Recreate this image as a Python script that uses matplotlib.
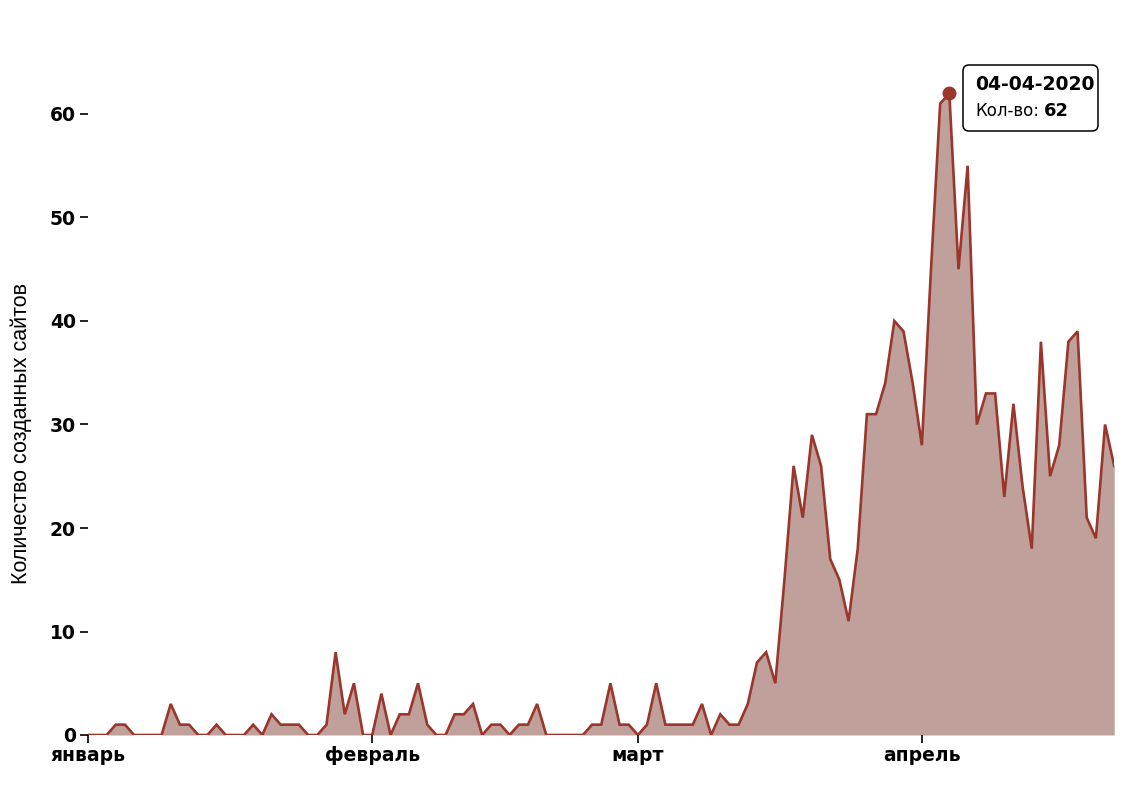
import matplotlib
matplotlib.use("Agg")
import matplotlib.pyplot as plt
import matplotlib.transforms as mtransforms
from matplotlib.patches import FancyBboxPatch
import numpy as np
import pandas as pd

# ---- data ----
start_date = "2020-01-01"
counts = [
    0, 0, 0, 1, 1, 0, 0, 0, 0, 3, 1, 1, 0, 0, 1, 0, 0, 0, 1, 0,
    2, 1, 1, 1, 0, 0, 1, 8, 2, 5, 0,
    0, 4, 0, 2, 2, 5, 1, 0, 0, 2, 2, 3, 0, 1, 1, 0, 1, 1, 3,
    0, 0, 0, 0, 0, 1, 1, 5, 1, 1,
    0, 1, 5, 1, 1, 1, 1, 3, 0, 2, 1, 1, 3, 7, 8, 5, 15, 26, 21, 29,
    26, 17, 15, 11, 18, 31, 31, 34, 40, 39, 34,
    28, 45, 61, 62, 45, 55, 30, 33, 33, 23, 32, 24, 18, 38, 25, 28,
    38, 39, 21, 19, 30, 26,
]
dates = pd.date_range(start_date, periods=len(counts), freq="D")
month_ticks = pd.to_datetime(["2020-01-01", "2020-02-01", "2020-03-01", "2020-04-01"])
month_labels = ["январь", "февраль", "март", "апрель"]
y_ticks = [0, 10, 20, 30, 40, 50, 60]
peak_label_date = "04-04-2020"
y_label = "Количество созданных сайтов"

line_color = "#9a362c"
fill_color = "#bfa09b"

W, H = 1142, 796
fig = plt.figure(figsize=(W / 100, H / 100), dpi=100)
plt.rcParams["font.family"] = ["DejaVu Sans"]

left_px, right_px = 88.3, 1114.2
bottom_px = 735
ymax = 65
px_per_unit = (735 - 114) / 60.0
top_px = bottom_px - ymax * px_per_unit
ax = fig.add_axes([left_px / W, (H - bottom_px) / H,
                   (right_px - left_px) / W, (bottom_px - top_px) / H])

x = dates
y = np.array(counts)
ax.fill_between(x, 0, y, color=fill_color, lw=0)
ax.plot(x, y, color=line_color, lw=1.9, solid_joinstyle="miter")
ax.set_xlim(dates[0], dates[-1])
ax.set_ylim(0, ymax)

for s in ax.spines.values():
    s.set_visible(False)

tick_font = dict(family=["DejaVu Sans"], size=13.5, weight="bold")
ax.set_yticks(y_ticks)
ax.set_yticklabels([str(v) for v in y_ticks], **tick_font)
ax.set_xticks(month_ticks)
ax.set_xticklabels(month_labels, **tick_font)
ax.tick_params(axis="y", length=6, width=1.2, pad=3, colors="black")
ax.tick_params(axis="x", length=6, width=1.2, pad=2, colors="black")
for lbl in ax.get_xticklabels() + ax.get_yticklabels():
    lbl.set_fontweight("semibold")

# peak marker
imax = int(np.argmax(y))
ax.plot([dates[imax]], [y[imax]], "o", color=line_color, ms=9, zorder=5)

# y label
fig.text(21 / W, (H - 433) / H, y_label, rotation=90, ha="center", va="center",
         fontsize=15.5, family=["Liberation Sans", "DejaVu Sans"])

# tooltip
pix = mtransforms.IdentityTransform()
box = FancyBboxPatch((963, H - 131), 135, 66,
                     boxstyle="round,pad=0,rounding_size=6",
                     transform=pix, facecolor="white", edgecolor="black", lw=1.1,
                     zorder=10)
fig.patches.append(box)
fig.text(975 / W, (H - 84) / H, peak_label_date, ha="left", va="center",
         fontsize=13.5, fontweight="bold", zorder=11)
fig.text(975 / W, (H - 111) / H, "Кол-во:", ha="left", va="center",
         fontsize=12, zorder=11)
fig.text(1044 / W, (H - 111) / H, str(int(y[imax])), ha="left", va="center",
         fontsize=13, fontweight="bold", zorder=11)

fig.savefig("out.png", dpi=100)
